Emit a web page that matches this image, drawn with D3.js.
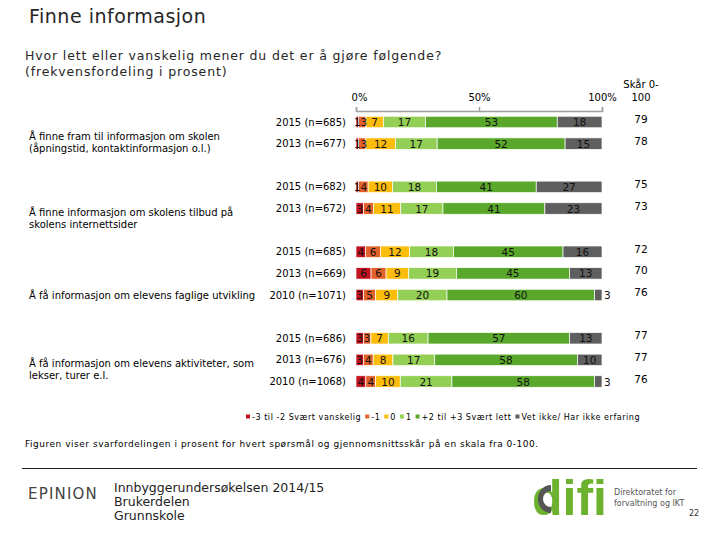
<!DOCTYPE html>
<html><head><meta charset="utf-8">
<script src="https://cdn.jsdelivr.net/npm/d3@7"></script>
<style>
html,body{margin:0;padding:0;background:#fff;}
svg{display:block;font-family:"DejaVu Sans",Verdana,sans-serif;}
</style></head>
<body>
<svg id="chart" width="720" height="540"></svg>
<script>
// ---------------- DATA ----------------
const questions = [
  ["Å finne fram til informasjon om skolen", "(åpningstid, kontaktinformasjon o.l.)"],
  ["Å finne informasjon om skolens tilbud på", "skolens internettsider"],
  ["Å få informasjon om elevens faglige utvikling"],
  ["Å få informasjon om elevens aktiviteter, som", "lekser, turer e.l."]
];
const rowQuestion = [0, 0, 1, 1, 2, 2, 2, 3, 3, 3];
const rowLabels = ["2015 (n=685)", "2013 (n=677)", "2015 (n=682)", "2013 (n=672)",
  "2015 (n=685)", "2013 (n=669)", "2010 (n=1071)", "2015 (n=686)", "2013 (n=676)", "2010 (n=1068)"];
const categories = ["-3 til -2 Svært vanskelig", "-1", "0", "1", "+2 til +3 Svært lett", "Vet ikke/ Har ikke erfaring"];
const valsM3M2 = [1, 1, 1, 3, 4, 6, 3, 3, 3, 4];
const valsM1   = [3, 3, 4, 4, 6, 6, 5, 3, 4, 4];
const vals0    = [7, 12, 10, 11, 12, 9, 9, 7, 8, 10];
const vals1    = [17, 17, 18, 17, 18, 19, 20, 16, 17, 21];
const valsP2P3 = [53, 52, 41, 41, 45, 45, 60, 57, 58, 58];
const valsVet  = [18, 15, 27, 23, 16, 13, 3, 13, 10, 3];
const scores   = [79, 78, 75, 73, 72, 70, 76, 77, 77, 76];
const axisTicks = [0, 50, 100];

// ---------------- STYLE / LAYOUT ----------------
const colors = ["#c2121f", "#e2602a", "#fcbc0c", "#93cf55", "#5aa82b", "#5f5f5f"];
const series = [valsM3M2, valsM1, vals0, vals1, valsP2P3, valsVet];
const qLabelOffset = [14, 25.5, 44, 25.5];
const svg = d3.select("#chart");

const slotOf = rowQuestion.map((q, i) => i + q);
const nSlots = d3.max(slotOf) + 1;
const y = d3.scalePoint().domain(d3.range(nSlots)).range([122, 381.5]);
const x = d3.scaleLinear().domain([0, 100]).range([356, 602]);
const barH = 11.5;

// title
svg.append("text").attr("x", 29).attr("y", 23).attr("font-size", 19).attr("letter-spacing", 0.5)
  .attr("fill", "#262626").text("Finne informasjon");
svg.append("text").attr("x", 25).attr("y", 60).attr("font-size", 12.5).attr("letter-spacing", 0.85)
  .attr("fill", "#262626").text("Hvor lett eller vanskelig mener du det er å gjøre følgende?");
svg.append("text").attr("x", 25).attr("y", 76).attr("font-size", 12.5).attr("letter-spacing", 0.85)
  .attr("fill", "#262626").text("(frekvensfordeling i prosent)");

// axis
const axisG = svg.append("g").attr("transform", "translate(0,111)")
  .call(d3.axisTop(x).tickValues(axisTicks).tickSize(4).tickSizeOuter(4).tickPadding(6).tickFormat(d => d + "%"));
axisG.select(".domain").attr("stroke", "#a0a0a0").attr("stroke-width", 1.5);
axisG.selectAll(".tick line").attr("stroke", "#a0a0a0").attr("stroke-width", 1.5);
axisG.selectAll(".tick text").attr("font-size", 10).attr("fill", "#000")
  .attr("font-family", "DejaVu Sans, sans-serif");
axisG.selectAll(".tick text").filter(d => d === 0).attr("dx", 3);

// score header
svg.append("text").attr("x", 641).attr("y", 88).attr("text-anchor", "middle").attr("font-size", 10).text("Skår 0-");
svg.append("text").attr("x", 641).attr("y", 101).attr("text-anchor", "middle").attr("font-size", 10).text("100");

// rows
rowLabels.forEach((lab, i) => {
  const cy = y(slotOf[i]);
  const vals = series.map(s => s[i]);
  const total = d3.sum(vals);
  let cum = 0;
  const segs = vals.map((v, k) => {
    const s = { k, v, x0: cum / total * 100, x1: (cum + v) / total * 100 };
    cum += v; return s;
  });
  const g = svg.append("g");
  g.selectAll("rect").data(segs).join("rect")
    .attr("x", d => x(d.x0)).attr("width", d => x(d.x1) - x(d.x0))
    .attr("y", cy - barH / 2).attr("height", barH)
    .attr("fill", d => colors[d.k]).attr("stroke", "#fff").attr("stroke-width", 0.7);
  const labels = g.selectAll("text.v").data(segs).join("text").attr("class", "v")
    .attr("x", d => (d.k === 5 && d.v < 5) ? x(100) + 2 : x((d.x0 + d.x1) / 2))
    .attr("text-anchor", d => (d.k === 5 && d.v < 5) ? "start" : "middle")
    .attr("y", cy + 4).attr("font-size", 10.5).attr("fill", "#111")
    .text(d => d.v);
  let prevEnd = -Infinity;
  labels.each(function () {
    const bb = this.getBBox();
    if (bb.x < prevEnd) {
      const shift = prevEnd - bb.x;
      d3.select(this).attr("x", +d3.select(this).attr("x") + shift);
      prevEnd = bb.x + bb.width + shift;
    } else prevEnd = bb.x + bb.width;
  });
  svg.append("text").attr("x", 346).attr("y", cy + 3.6).attr("text-anchor", "end")
    .attr("font-size", 10).attr("fill", "#000").text(lab);
  svg.append("text").attr("x", 641).attr("y", cy + 1).attr("text-anchor", "middle")
    .attr("font-size", 10.5).attr("fill", "#000").text(scores[i]);
});

// question labels
questions.forEach((lines, q) => {
  const first = rowQuestion.indexOf(q);
  const cy = y(slotOf[first]) + qLabelOffset[q];
  lines.forEach((ln, j) => {
    svg.append("text").attr("x", 29).attr("y", cy + 3.5 + j * 12)
      .attr("font-size", 10).attr("fill", "#000").text(ln);
  });
});

// legend
let lx = 246;
const legY = 417;
categories.forEach((c, k) => {
  svg.append("rect").attr("x", lx).attr("y", legY - 2.5).attr("width", 4).attr("height", 4).attr("fill", colors[k]);
  const t = svg.append("text").attr("x", lx + 6).attr("y", legY + 2.5).attr("font-size", 8)
    .attr("letter-spacing", 0.55).attr("fill", "#000").text(c);
  lx += 6 + t.node().getComputedTextLength() + 4;
});

// note
svg.append("text").attr("x", 25).attr("y", 447).attr("font-size", 9).attr("letter-spacing", 0.52).attr("fill", "#000")
  .text("Figuren viser svarfordelingen i prosent for hvert spørsmål og gjennomsnittsskår på en skala fra 0-100.");

// footer
svg.append("line").attr("x1", 22).attr("x2", 697).attr("y1", 468.5).attr("y2", 468.5)
  .attr("stroke", "#222").attr("stroke-width", 1.2);
svg.append("text").attr("x", 28).attr("y", 499).attr("font-size", 15).attr("letter-spacing", 1.2)
  .attr("fill", "#444").text("EPINION");
["Innbyggerundersøkelsen 2014/15", "Brukerdelen", "Grunnskole"].forEach((t, j) => {
  svg.append("text").attr("x", 114).attr("y", 492 + j * 14.2).attr("font-size", 12.5).attr("fill", "#222").text(t);
});
const logo = svg.append("g");
logo.append("text").attr("x", 532).attr("y", 515).attr("font-size", 50).attr("font-weight", "bold")
  .attr("font-family", "Liberation Sans, Arial, sans-serif").attr("fill", "#6cb22e").text("difi");
logo.append("path").attr("d", "M551,485 A 13 14 0 1 0 551 513 L 551 507 A 8 8 0 1 1 551 491 Z").attr("fill", "#555");
svg.append("text").attr("x", 614).attr("y", 495).attr("font-size", 8).attr("fill", "#555").text("Direktoratet for");
svg.append("text").attr("x", 614).attr("y", 506).attr("font-size", 8).attr("fill", "#555").text("forvaltning og IKT");
svg.append("text").attr("x", 689).attr("y", 516).attr("font-size", 8).attr("fill", "#333").text("22");
</script>
</body></html>
